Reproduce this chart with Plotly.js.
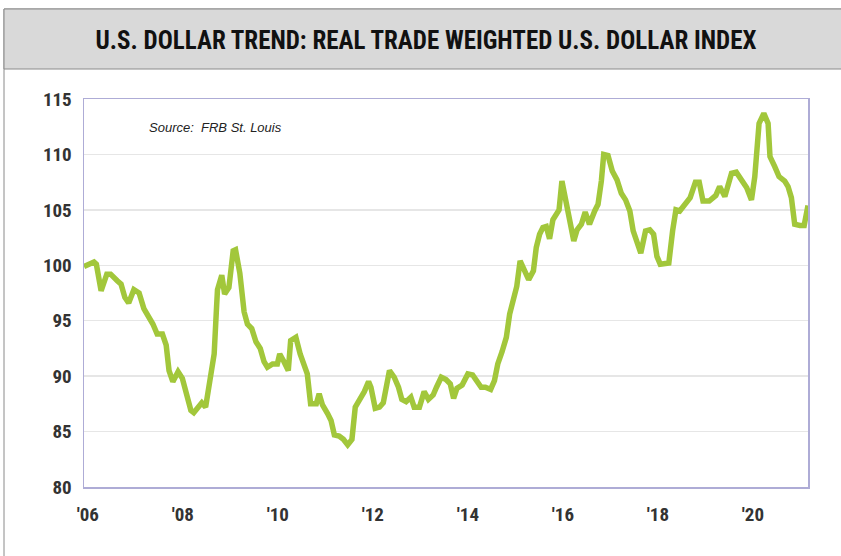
<!DOCTYPE html>
<html>
<head>
<meta charset="utf-8">
<script src="https://cdn.plot.ly/plotly-3.0.1.min.js"></script>
<style>html,body{margin:0;padding:0;background:#fff;}#chart{width:841px;height:556px;}</style>
</head>
<body>
<div id="chart"></div>
<script>
// Decimal-year positions
var yearPos = [2005.92,2006.13,2006.18,2006.28,2006.40,2006.48,2006.62,2006.70,2006.78,2006.86,2006.97,
2007.08,2007.18,2007.29,2007.37,2007.46,2007.57,2007.65,2007.71,2007.79,2007.90,2007.99,
2008.07,2008.17,2008.23,2008.34,2008.40,2008.48,2008.57,2008.66,2008.71,2008.73,2008.82,2008.88,2008.97,
2009.06,2009.11,2009.20,2009.29,2009.36,2009.45,2009.54,2009.63,2009.71,2009.78,2009.89,2009.99,
2010.04,2010.13,2010.22,2010.27,2010.38,2010.47,2010.55,2010.62,2010.69,2010.81,2010.87,2010.94,
2011.05,2011.12,2011.19,2011.29,2011.38,2011.47,2011.56,2011.63,2011.71,2011.82,2011.91,2011.96,
2012.05,2012.14,2012.22,2012.35,2012.45,2012.54,2012.61,2012.70,2012.80,2012.87,2012.98,
2013.08,2013.17,2013.27,2013.34,2013.44,2013.54,2013.63,2013.70,2013.77,2013.88,
2014.00,2014.10,2014.19,2014.28,2014.37,2014.48,2014.56,2014.63,2014.72,2014.81,2014.88,2014.95,
2015.03,2015.10,2015.19,2015.28,2015.38,2015.44,2015.51,2015.58,2015.65,2015.72,2015.79,2015.86,2015.92,2015.98,
2016.07,2016.14,2016.23,2016.30,2016.39,2016.47,2016.56,2016.67,2016.74,2016.81,2016.86,2016.95,
2017.04,2017.14,2017.23,2017.32,2017.41,2017.48,2017.56,2017.64,2017.74,2017.83,2017.91,2017.98,
2018.05,2018.14,2018.23,2018.31,2018.38,2018.46,2018.53,2018.60,2018.68,2018.79,2018.87,2018.95,
2019.08,2019.22,2019.30,2019.41,2019.50,2019.55,2019.65,2019.76,2019.87,2019.97,
2020.04,2020.13,2020.23,2020.32,2020.36,2020.46,2020.55,2020.67,2020.74,2020.81,2020.88,2020.99,
2021.08,2021.16];

var dollarIndex = [99.9,100.3,100.1,97.7,99.2,99.2,98.6,98.3,97.1,96.6,97.8,
97.5,96.1,95.3,94.7,93.8,93.8,92.8,90.5,89.5,90.4,89.8,
88.4,86.9,86.7,87.3,87.6,87.2,89.9,92.0,96.2,97.8,99.1,97.4,98.0,
101.3,101.4,99.3,95.8,94.7,94.3,93.1,92.5,91.3,90.8,91.1,91.1,
92.0,91.3,90.5,93.2,93.5,92.0,91.0,90.2,87.5,87.5,88.4,87.4,
86.6,86.0,84.7,84.6,84.3,83.8,84.3,87.2,87.8,88.6,89.5,89.0,
87.1,87.2,87.6,90.5,89.9,89.0,87.9,87.7,88.1,87.2,87.2,
88.6,87.9,88.3,89.0,89.9,89.7,89.3,88.0,88.9,89.2,
90.2,90.1,89.6,89.0,89.0,88.8,89.6,91.1,92.2,93.5,95.6,97.0,
98.1,100.4,99.5,98.7,99.5,101.6,102.8,103.4,103.5,102.4,104.1,104.6,105.0,107.6,
105.5,103.7,102.2,103.2,103.7,104.8,103.7,104.9,105.5,107.6,110.0,109.9,
108.5,107.7,106.5,105.9,104.9,103.1,101.9,101.1,103.1,103.2,102.8,100.8,
100.1,100.1,100.2,103.1,105.0,104.9,105.3,105.6,106.1,107.5,107.5,105.8,
105.8,106.3,107.1,106.2,107.7,108.3,108.4,107.6,107.0,105.9,
108.0,112.8,113.7,112.8,109.8,108.9,108.0,107.6,107.1,106.1,103.7,103.6,
103.6,105.4];

var xTickVals = [2006,2008,2010,2012,2014,2016,2018,2020];
var xTickText = ["'06","'08","'10","'12","'14","'16","'18","'20"];
var yTickVals = [80,85,90,95,100,105,110,115];

var condensed = '"Liberation Sans Narrow", "Arial Narrow", "Roboto Condensed", "Liberation Sans", Arial, sans-serif';

var trace = {
  x: yearPos, y: dollarIndex, type: 'scatter', mode: 'lines',
  line: {color: '#a2c73b', width: 5.5, shape: 'linear'},
  hoverinfo: 'skip'
};

var layout = {
  width: 841, height: 556,
  margin: {l: 84, r: 33, t: 99, b: 69},
  paper_bgcolor: 'rgba(0,0,0,0)', plot_bgcolor: '#ffffff',
  showlegend: false,
  title: {
    text: '<b>U.S. DOLLAR TREND: REAL TRADE WEIGHTED U.S. DOLLAR INDEX</b>',
    font: {family: condensed, size: 25, color: '#111111'},
    x: 426/841, xref: 'container', xanchor: 'center',
    y: 1 - 40/556, yref: 'container', yanchor: 'middle'
  },
  xaxis: {
    range: [2005.92, 2021.16], tickvals: xTickVals, ticktext: xTickText,
    showgrid: false, zeroline: false, ticks: '',
    showline: true, linecolor: '#aeacd6', linewidth: 1.5, mirror: true,
    tickfont: {family: condensed, size: 19, color: '#333333', weight: 'bold'},
    ticklabelstandoff: 10
  },
  yaxis: {
    range: [80, 115], tickvals: yTickVals,
    showgrid: true, gridcolor: '#e6e6e6', gridwidth: 1.5, zeroline: false, ticks: '',
    showline: true, linecolor: '#aeacd6', linewidth: 1.5, mirror: true,
    tickfont: {family: condensed, size: 19, color: '#333333', weight: 'bold'},
    ticklabelstandoff: 7
  },
  shapes: [
    {type: 'rect', xref: 'paper', yref: 'paper', x0: -80/724, x1: 1.1, y0: -0.3, y1: (487-9)/388,
     fillcolor: '#ffffff', line: {color: '#8a8a8a', width: 1}, layer: 'below'},
    {type: 'rect', xref: 'paper', yref: 'paper', x0: -80/724, x1: 1.1, y0: (487-69)/388, y1: (487-9)/388,
     fillcolor: '#d9d9d9', line: {color: '#8a8a8a', width: 1}, layer: 'below'}
  ],
  annotations: [
    {text: '<i>Source:  FRB St. Louis</i>', xref: 'paper', yref: 'paper',
     x: (215-84)/724, y: (487-128)/388, xanchor: 'center', yanchor: 'middle', showarrow: false,
     font: {family: '"Liberation Sans", Arial, sans-serif', size: 13, color: '#222222'}}
  ]
};

Plotly.newPlot('chart', [trace], layout, {displayModeBar: false, staticPlot: true});
</script>
</body>
</html>
